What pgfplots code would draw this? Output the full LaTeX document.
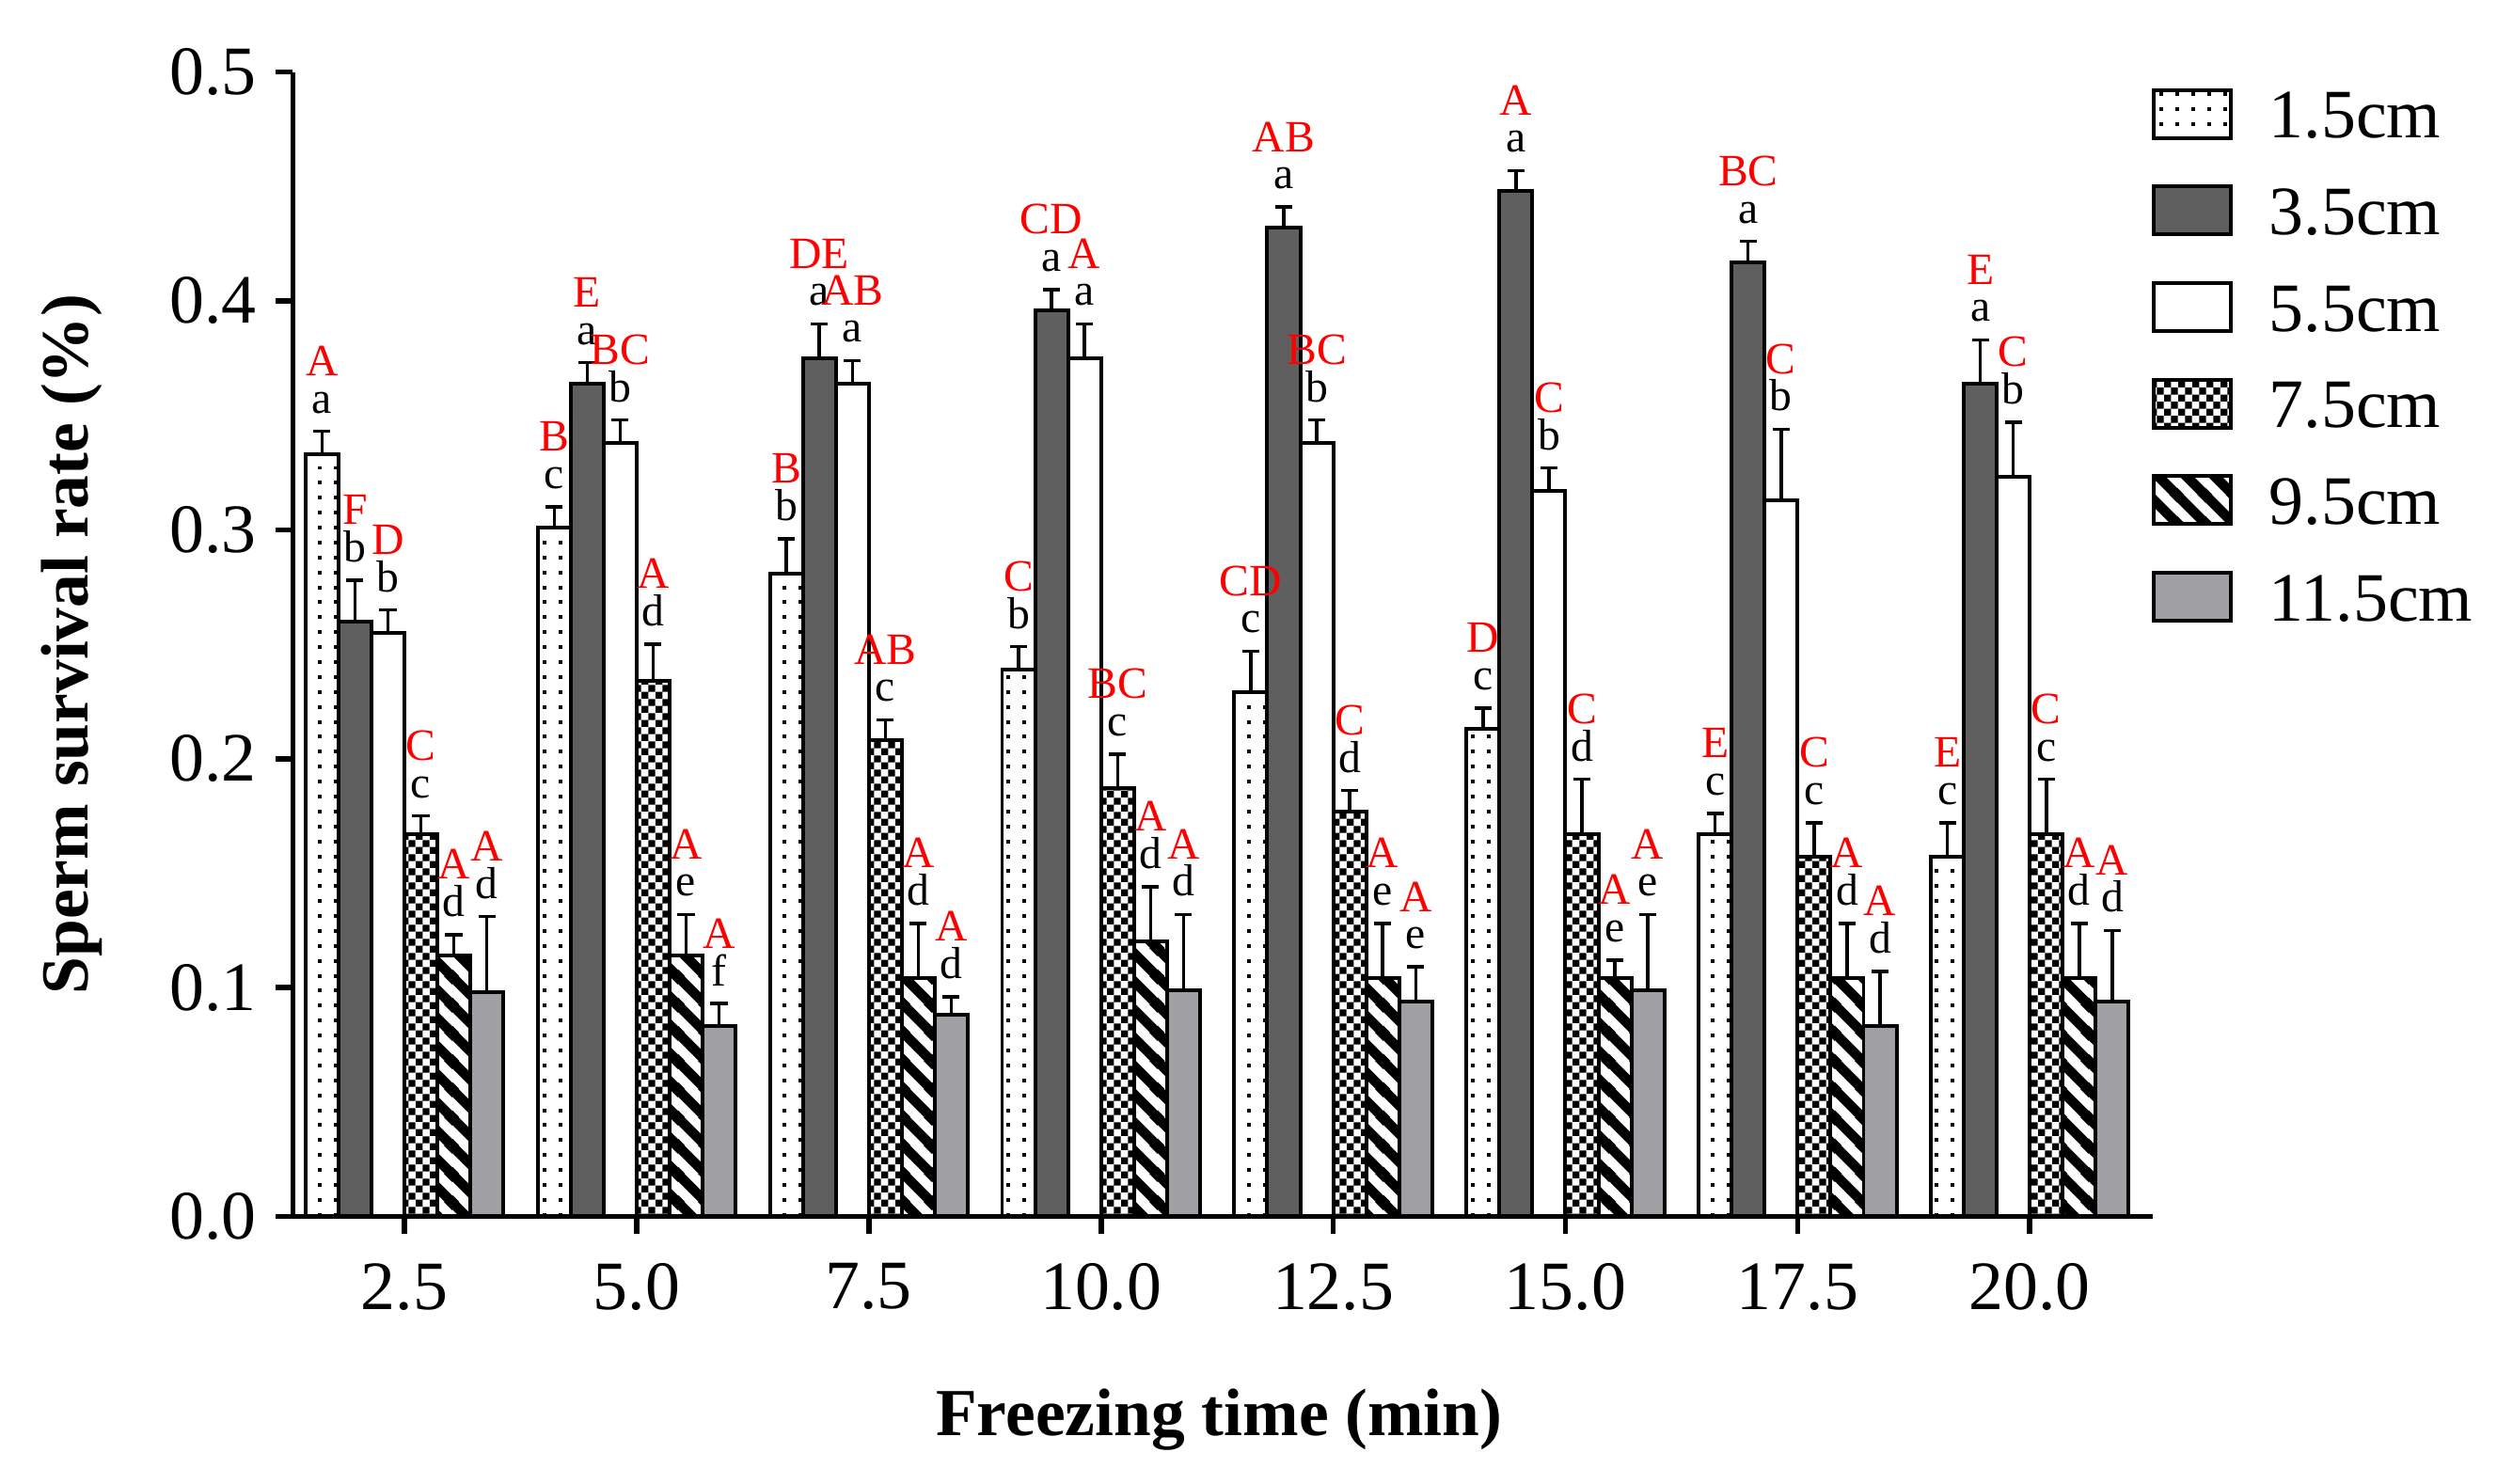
\documentclass[border=0pt]{standalone}
\usepackage{fontspec}
\setmainfont{Liberation Serif}
\usepackage{pgfplots}
\pgfplotsset{compat=1.18}
\usepackage{pgfplotstable}
\usetikzlibrary{patterns}

\definecolor{darkbar}{RGB}{95,95,95}
\definecolor{lightbar}{RGB}{160,160,164}

% patterns of the bars
\pgfdeclarepatternformonly{sparsedots}{\pgfqpoint{-1pt}{-1pt}}{\pgfqpoint{1pt}{1pt}}{\pgfqpoint{3pt}{2.8pt}}%
  {\pgfpathrectangle{\pgfqpoint{-0.35pt}{-0.35pt}}{\pgfqpoint{0.7pt}{0.7pt}}\pgfusepath{fill}}
\pgfdeclarepatternformonly{smallchecker}{\pgfpointorigin}{\pgfqpoint{2.6pt}{2.6pt}}{\pgfqpoint{2.6pt}{2.6pt}}%
  {\pgfpathrectangle{\pgfpointorigin}{\pgfqpoint{1.3pt}{1.3pt}}%
   \pgfpathrectangle{\pgfqpoint{1.3pt}{1.3pt}}{\pgfqpoint{1.3pt}{1.3pt}}\pgfusepath{fill}}
\pgfdeclarepatternformonly{thickstripes}{\pgfpointorigin}{\pgfqpoint{5.3pt}{5.3pt}}{\pgfqpoint{5.3pt}{5.3pt}}%
  {\pgfsetlinewidth{1.9pt}%
   \pgfpathmoveto{\pgfqpoint{-1pt}{6.3pt}}\pgfpathlineto{\pgfqpoint{6.3pt}{-1pt}}%
   \pgfpathmoveto{\pgfqpoint{-1pt}{1pt}}\pgfpathlineto{\pgfqpoint{1pt}{-1pt}}%
   \pgfpathmoveto{\pgfqpoint{4.3pt}{6.3pt}}\pgfpathlineto{\pgfqpoint{6.3pt}{4.3pt}}%
   \pgfusepath{stroke}}

% letters above a bar: upper (red) / lower (black)
\def\splitlab#1{\expandafter\splitlabi#1\relax}
\def\splitlabi#1/#2\relax{\textcolor{red}{#1}\\#2}

% x: freezing time index, y: survival rate, err: SD, M: letters
\pgfplotstableread{
x y err M
1 0.333 0.010 A/a
2 0.301 0.009 B/c
3 0.281 0.015 B/b
4 0.239 0.010 C/b
5 0.229 0.018 CD/c
6 0.213 0.009 D/c
7 0.167 0.009 E/c
8 0.157 0.015 E/c
}\tabA
\pgfplotstableread{
x y err M
1 0.260 0.018 F/b
2 0.364 0.009 E/a
3 0.375 0.015 DE/a
4 0.396 0.009 CD/a
5 0.432 0.009 AB/a
6 0.448 0.009 A/a
7 0.417 0.009 BC/a
8 0.364 0.019 E/a
}\tabB
\pgfplotstableread{
x y err M
1 0.255 0.010 D/b
2 0.338 0.010 BC/b
3 0.364 0.010 AB/a
4 0.375 0.015 A/a
5 0.338 0.010 BC/b
6 0.317 0.010 C/b
7 0.313 0.031 C/b
8 0.323 0.024 C/b
}\tabC
\pgfplotstableread{
x y err M
1 0.167 0.008 C/c
2 0.234 0.016 A/d
3 0.208 0.009 AB/c
4 0.187 0.015 BC/c
5 0.177 0.009 C/d
6 0.167 0.024 C/d
7 0.157 0.015 C/c
8 0.167 0.024 C/c
}\tabD
\pgfplotstableread{
x y err M
1 0.114 0.009 A/d
2 0.114 0.018 A/e
3 0.104 0.024 A/d
4 0.120 0.024 A/d
5 0.104 0.024 A/e
6 0.104 0.008 A/e
7 0.104 0.024 A/d
8 0.104 0.024 A/d
}\tabE
\pgfplotstableread{
x y err M
1 0.098 0.033 A/d
2 0.083 0.010 A/f
3 0.088 0.008 A/d
4 0.099 0.033 A/d
5 0.094 0.015 A/e
6 0.099 0.033 A/e
7 0.083 0.024 A/d
8 0.094 0.031 A/d
}\tabF

\begin{document}
\begin{tikzpicture}
\begin{axis}[
    scale only axis,
    width=348.6pt, height=214.5pt,
    ybar=0pt, bar width=0.142,
    xmin=0.52, xmax=8.53,
    ymin=0, ymax=0.5,
    clip=false,
    axis x line*=bottom, axis y line*=left,
    axis line style={line width=1pt},
    tick align=outside,
    major tick length=3.3pt,
    tick style={black, line width=1pt},
    xtick={1,2,3,4,5,6,7,8},
    xticklabels={2.5,5.0,7.5,10.0,12.5,15.0,17.5,20.0},
    ytick={0,0.1,0.2,0.3,0.4,0.5},
    yticklabel style={/pgf/number format/.cd, fixed, fixed zerofill, precision=1, assume math mode=true},
    ticklabel style={font=\fontsize{13}{15}\selectfont},
    xticklabel style={yshift=-2pt},
    xlabel={\textbf{Freezing time (min)}},
    ylabel={\textbf{Sperm survival rate (\%)}},
    label style={font=\fontsize{12.6}{15}\selectfont},
    xlabel style={at={(axis description cs:0.498,-0.178)}, anchor=center},
    ylabel style={at={(axis description cs:-0.119,0.5)}, anchor=center},
    every axis plot/.append style={draw=black, line width=0.7pt},
    error bars/error bar style={line width=0.6pt, black},
    error bars/error mark options={rotate=90, mark size=1.6pt, line width=0.6pt, black},
    point meta=explicit symbolic,
    visualization depends on={\thisrow{err}\as\errv},
    nodes near coords={\splitlab\pgfplotspointmeta},
    every node near coord/.append style={anchor=south, align=center, inner sep=0pt,
        font=\fontsize{8.4}{7}\selectfont, yshift=429pt*\errv+3pt},
    every axis plot post/.append style={legend image code/.code={%
        \draw[##1, line width=0.7pt] (0pt,-4.5pt) rectangle (14.4pt,4.5pt);}},
    legend style={at={(1,1)}, anchor=north west, xshift=-0.4pt, yshift=-2.8pt,
        draw=none, fill=none, inner sep=0pt, row sep=8.4pt, column sep=6.9pt,
        font=\fontsize{13}{15}\selectfont,
        nodes={inner sep=0pt, text height=9pt, text depth=0pt}},
    legend cell align=left,
]
\addplot[preaction={fill=white}, pattern=sparsedots,
    error bars/.cd, y dir=plus, y explicit] table[x=x, y=y, y error=err, meta=M] {\tabA};
\addlegendentry{1.5cm}
\addplot[fill=darkbar,
    error bars/.cd, y dir=plus, y explicit] table[x=x, y=y, y error=err, meta=M] {\tabB};
\addlegendentry{3.5cm}
\addplot[fill=white,
    error bars/.cd, y dir=plus, y explicit] table[x=x, y=y, y error=err, meta=M] {\tabC};
\addlegendentry{5.5cm}
\addplot[preaction={fill=white}, pattern=smallchecker,
    error bars/.cd, y dir=plus, y explicit] table[x=x, y=y, y error=err, meta=M] {\tabD};
\addlegendentry{7.5cm}
\addplot[preaction={fill=white}, pattern=thickstripes,
    error bars/.cd, y dir=plus, y explicit] table[x=x, y=y, y error=err, meta=M] {\tabE};
\addlegendentry{9.5cm}
\addplot[fill=lightbar,
    error bars/.cd, y dir=plus, y explicit] table[x=x, y=y, y error=err, meta=M] {\tabF};
\addlegendentry{11.5cm}
\end{axis}
\pgfresetboundingbox
\useasboundingbox (-54.9pt,-50.1pt) rectangle (413.1pt,228pt);
\end{tikzpicture}
\end{document}
